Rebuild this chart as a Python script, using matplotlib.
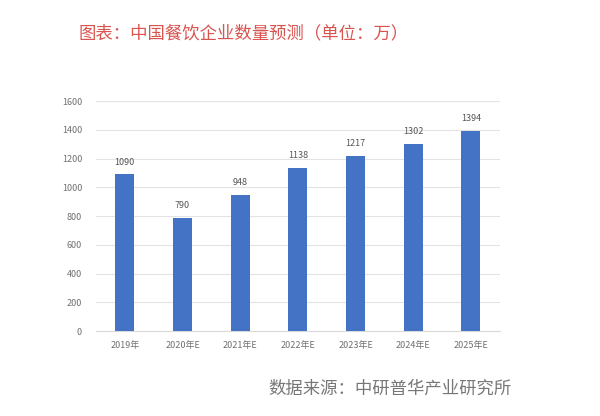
import matplotlib.pyplot as plt

plt.rcParams['font.family'] = ['Noto Sans CJK SC', 'DejaVu Sans']

years = ['2019年', '2020年E', '2021年E', '2022年E', '2023年E', '2024年E', '2025年E']
counts = [1090, 790, 948, 1138, 1217, 1302, 1394]
yticks = [0, 200, 400, 600, 800, 1000, 1200, 1400, 1600]

fig = plt.figure(figsize=(6, 4.16), dpi=100)
ax = fig.add_axes([0.16, 0.204, 0.673, 0.553])

x = range(len(years))
ax.bar(x, counts, width=0.33, color='#4472C4', zorder=3)

# value labels above bars
for i, v in zip(x, counts):
    ax.text(i, v + 55, str(v), ha='center', va='bottom', fontsize=6.5, color='#555555')

ax.set_xlim(-0.5, len(years) - 0.5)
ax.set_ylim(0, 1600)
ax.set_yticks(yticks)
ax.set_xticks(list(x))
ax.set_xticklabels(years)
ax.tick_params(axis='both', length=0, labelsize=6.5, colors='#707070')
ax.tick_params(axis='y', pad=10)
ax.tick_params(axis='x', pad=7)
ax.grid(axis='y', color='#e3e3e3', linewidth=0.8, zorder=0)
for s in ['top', 'right', 'left']:
    ax.spines[s].set_visible(False)
ax.spines['bottom'].set_color('#d9d9d9')

fig.text(0.13, 0.92, '图表：中国餐饮企业数量预测（单位：万）', fontsize=12.5,
         color='#d9534f', ha='left', va='center')
fig.text(0.447, 0.067, '数据来源：中研普华产业研究所', fontsize=12.5,
         color='#777777', ha='left', va='center')

fig.savefig('out.png', dpi=100)
